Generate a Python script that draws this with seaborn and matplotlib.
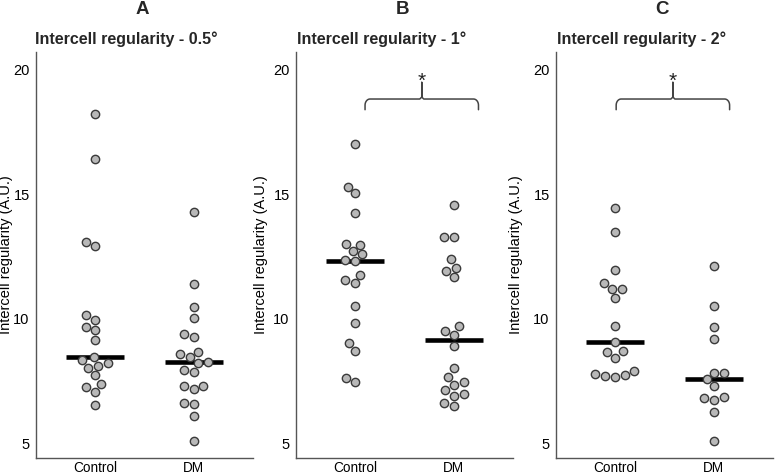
import numpy as np
import pandas as pd
import seaborn as sns
import matplotlib.pyplot as plt

# =========================
# DATA
# =========================
groups = ["Control", "DM"]

ctrl_05 = [18.22, 16.41, 13.10, 12.94, 10.15, 9.95, 9.68, 9.55, 9.13, 8.46,
           8.34, 8.23, 8.11, 8.02, 7.74, 7.36, 7.24, 7.05, 6.53]
dm_05 = [14.28, 11.40, 10.47, 10.02, 9.39, 9.28, 8.66, 8.57, 8.46, 8.25,
         8.23, 7.94, 7.87, 7.31, 7.29, 7.17, 6.60, 6.58, 6.09, 5.07]

ctrl_1 = [17.01, 15.30, 15.04, 14.24, 13.02, 12.98, 12.72, 12.60, 12.36, 12.32,
          11.77, 11.54, 11.42, 10.51, 9.83, 9.02, 8.71, 7.63, 7.45]
dm_1 = [14.57, 13.30, 13.27, 12.39, 12.05, 11.93, 11.66, 9.69, 9.52, 9.36,
        8.92, 8.00, 7.67, 7.44, 7.35, 7.12, 6.98, 6.90, 6.61, 6.50]

ctrl_2 = [14.46, 13.50, 11.96, 11.42, 11.19, 11.19, 10.82, 9.72, 9.05, 8.69,
          8.66, 8.42, 7.91, 7.78, 7.72, 7.70, 7.64]
dm_2 = [12.12, 10.51, 9.65, 9.18, 7.83, 7.83, 7.56, 7.28, 6.84, 6.82,
        6.72, 6.25, 5.10]

letters = ["A", "B", "C"]
titles = ["Intercell regularity - 0.5°", "Intercell regularity - 1°",
          "Intercell regularity - 2°"]
# significance bracket (x start, x end) per panel, None = no bracket
brackets = [None, (0.10, 1.25), (0.01, 1.16)]

# =========================
# STYLE
# =========================
sns.set_theme(style="white")
plt.rcParams['font.family'] = ['Liberation Sans', 'DejaVu Sans']

W, H = 775, 476
fig = plt.figure(figsize=(W / 100, H / 100), dpi=100)

lefts = [36, 296, 556]
label_right = [13, 268, 523]
title_x = [126, 382, 642]


def brace(ax, x0, x1, y=18.83, yend=18.4, tip=19.5, rx=0.05, ry=0.25):
    # curly bracket with rounded corners
    t = np.linspace(0, np.pi / 2, 12)
    xm = (x0 + x1) / 2
    left_corner_x = x0 + rx - rx * np.cos(t)
    left_corner_y = y - ry + ry * np.sin(t)
    right_corner_x = x1 - rx + rx * np.cos(t[::-1])
    right_corner_y = y - ry + ry * np.sin(t[::-1])
    xs = np.concatenate([[x0], left_corner_x, [xm - 0.02, xm, xm, xm, xm + 0.02],
                         right_corner_x, [x1]])
    ys = np.concatenate([[yend], left_corner_y, [y, y + 0.08, tip, y + 0.08, y],
                         right_corner_y, [yend]])
    ax.plot(xs, ys, color="#444444", lw=1.1, solid_capstyle="round")
    ax.text(xm, 19.3, "*", ha="center", va="baseline", fontsize=15,
            color="#222222")


data_sets = [(ctrl_05, dm_05), (ctrl_1, dm_1), (ctrl_2, dm_2)]

for i, (ctrl, dm) in enumerate(data_sets):
    df = pd.DataFrame({
        "group": ["Control"] * len(ctrl) + ["DM"] * len(dm),
        "value": ctrl + dm,
    })
    ax = fig.add_axes([lefts[i] / W, 18 / H, 217 / W, 406 / H])

    # median bars
    sns.pointplot(data=df, x="group", y="value", order=groups,
                  estimator=np.median, errorbar=None, color="black",
                  markers="_", linestyles="none", markersize=42,
                  markeredgewidth=3.3, ax=ax, zorder=2)
    # points
    sns.swarmplot(data=df, x="group", y="value", order=groups, size=6.0,
                  color="#b8b8b8", edgecolor="#3a3a3a", linewidth=1.0,
                  ax=ax, zorder=3)

    ax.set_xlim(-0.6, 1.6)
    ax.set_ylim(4.40, 20.72)
    ax.set_yticks([5, 10, 15, 20])
    ax.set_xlabel("")
    ax.set_ylabel("Intercell regularity (A.U.)", fontsize=10.5, color="black")
    ax.yaxis.set_label_coords((label_right[i] - lefts[i]) / 217, 0.5)
    ax.tick_params(axis="both", labelsize=10.5, length=2.5, width=0.8,
                   color="#555555", pad=2, labelcolor="black")
    ax.tick_params(axis="x", pad=0.5, length=1.5, labelsize=9.8)
    for side in ["top", "right"]:
        ax.spines[side].set_visible(False)
    for side in ["left", "bottom"]:
        ax.spines[side].set_color("#555555")
        ax.spines[side].set_linewidth(1.0)
    ax.grid(False)

    if brackets[i] is not None:
        brace(ax, *brackets[i])

    cx = (lefts[i] + 108.5 - 2) / W
    fig.text(cx, 1 - 10 / H, letters[i], ha="center", va="center",
             fontsize=13.5, fontweight="bold")
    fig.text(title_x[i] / W, 1 - 39 / H, titles[i], ha="center", va="center",
             fontsize=11.5, fontweight="bold")

plt.savefig("out.png", dpi=100)
